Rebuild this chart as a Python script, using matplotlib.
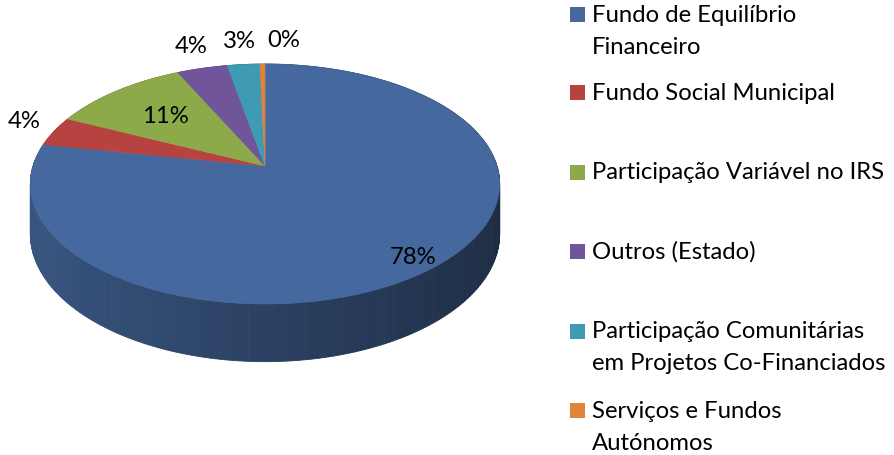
import numpy as np
import matplotlib
matplotlib.use("Agg")
import matplotlib.pyplot as plt
from matplotlib.patches import Polygon, Rectangle
from matplotlib import colors as mcolors

# ---- data ----
categories = [
    "Fundo de Equilíbrio\nFinanceiro",
    "Fundo Social Municipal",
    "Participação Variável no IRS",
    "Outros (Estado)",
    "Participação Comunitárias\nem Projetos Co-Financiados",
    "Serviços e Fundos\nAutónomos",
]
values = [78.0, 4.0, 11.0, 4.0, 2.6, 0.4]
slice_colors = ["#45699E", "#B8423F", "#8CAA4A", "#70559A", "#3F9AB4", "#E0843A"]

# ---- geometry / style ----
W, H, DPI = 895, 456, 100
CX, CY = 265.0, 167.0      # apex of pie on screen (px)
A, B = 232.0, 117.3         # horizontal / vertical radius
K = 0.15                    # perspective strength
D = 49.0                    # thickness
FONT = ["Lato", "DejaVu Sans"]
FS = 17.2

fig = plt.figure(figsize=(W / DPI, H / DPI), dpi=DPI)
ax = fig.add_axes([0, 0, 1, 1])
ax.set_xlim(0, W)
ax.set_ylim(H, 0)
ax.axis("off")


def proj(theta, r=1.0, down=0.0):
    t = np.radians(theta)
    u = r * np.sin(t)
    v = -r * np.cos(t)
    f = 1.0 / (1.0 - K * v)
    return CX + A * u * f, CY + B * v * f + D * f * down, u, v


total = float(sum(values))
fracs = [v / total for v in values]
starts = np.concatenate([[0.0], np.cumsum(fracs)[:-1]]) * 360.0
ends = np.cumsum(fracs) * 360.0

# side walls
quads = []
for s, e, c in zip(starts, ends, slice_colors):
    n = max(2, int((e - s) / 1.0))
    th = np.linspace(s, e, n + 1)
    base = np.array(mcolors.to_rgb(c))
    for a0, a1 in zip(th[:-1], th[1:]):
        x0, y0, u0, v0 = proj(a0)
        x1, y1, u1, v1 = proj(a1)
        xb0, yb0, _, _ = proj(a0, down=1)
        xb1, yb1, _, _ = proj(a1, down=1)
        um = 0.5 * (u0 + u1)
        vm = 0.5 * (v0 + v1)
        fac = 0.82 - 0.2 * (um + 1.0)
        col = np.clip(base * fac, 0, 1)
        quads.append((vm, [(x0, y0), (x1, y1), (xb1, yb1), (xb0, yb0)], col))
quads.sort(key=lambda q: q[0])
for vm, pts, col in quads:
    ax.add_patch(Polygon(pts, closed=True, facecolor=col, edgecolor=col,
                         linewidth=0.6, zorder=1))

# top faces
for s, e, c in zip(starts, ends, slice_colors):
    th = np.linspace(s, e, max(3, int(e - s) + 2))
    pts = [(CX, CY)] + [proj(t)[:2] for t in th]
    ax.add_patch(Polygon(pts, closed=True, facecolor=c, edgecolor=c,
                         linewidth=0.4, zorder=3))

# data labels
label_r = [0.9, 1.15, 0.65, 1.2, 1.25, 1.25]
label_dx = [0, 0, 0, 0, 0, 22]
label_dy = [0, -6, 0, -6, -3, -3]
for i, (s, e, v) in enumerate(zip(starts, ends, values)):
    mid = 0.5 * (s + e)
    x, y, _, _ = proj(mid, r=label_r[i])
    ax.text(x + label_dx[i], y + label_dy[i], f"{round(v / total * 100):.0f}%",
            ha="center", va="center", fontsize=FS, family=FONT,
            color="black", zorder=5)

# legend
row_y = [15, 93, 173, 252, 332, 412]
line_gap = 32
for cat, c, y in zip(categories, slice_colors, row_y):
    ax.add_patch(Rectangle((570, y - 7.5), 15, 15, facecolor=c,
                           edgecolor="none", zorder=5))
    for j, line in enumerate(cat.split("\n")):
        ax.text(592, y + j * line_gap, line, ha="left", va="center",
                fontsize=FS, family=FONT, color="black", zorder=5)

fig.savefig("out.png", dpi=DPI)
